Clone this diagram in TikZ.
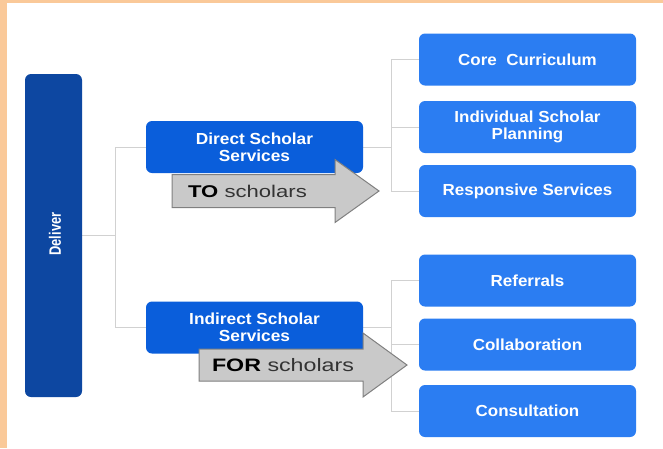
\documentclass[tikz,border=0pt]{standalone}
\usepackage{fontspec}
\setmainfont{Liberation Sans}
\usepackage{graphicx}
\usepackage{tikz}
\pgfdeclarelayer{bglayer}
\pgfdeclarelayer{edgelayer}
\pgfdeclarelayer{nodelayer}
\pgfsetlayers{bglayer,edgelayer,nodelayer,main}
\definecolor{peach}{rgb}{0.98,0.79,0.60}
\definecolor{deepblue}{rgb}{0.05,0.28,0.63}
\definecolor{midblue}{rgb}{0.04,0.37,0.86}
\definecolor{lightblue}{rgb}{0.17,0.49,0.95}
\definecolor{linegray}{rgb}{0.82,0.82,0.82}
\definecolor{arrowgray}{rgb}{0.79,0.79,0.79}
\definecolor{edgegray}{rgb}{0.50,0.50,0.50}
\definecolor{textgray}{rgb}{0.20,0.20,0.20}
\tikzstyle{none}=[inner sep=0pt]
\tikzstyle{bar}=[fill=deepblue, rounded corners=6, minimum width=57, minimum height=323, text=white, inner sep=0pt]
\tikzstyle{service}=[fill=midblue, rounded corners=6, minimum width=217, minimum height=52, text=white, align=center, inner sep=0pt, font=\fontsize{16}{17}\selectfont\bfseries]
\tikzstyle{branch}=[fill=lightblue, rounded corners=6, minimum width=217, minimum height=52, text=white, align=center, inner sep=0pt, font=\fontsize{16}{17}\selectfont\bfseries]
\tikzstyle{link}=[draw=linegray, line width=1]
\tikzstyle{block}=[fill=arrowgray, draw=edgegray, line width=1, line join=miter]

\begin{document}
\begin{tikzpicture}[x=1pt, y=-1pt]
	\useasboundingbox (0, 0) rectangle (663, 448);
	\begin{pgfonlayer}{bglayer}
		\fill [peach] (0, 0) rectangle (663, 448);
		\fill [white] (7, 3) rectangle (663, 448);
	\end{pgfonlayer}
	\begin{pgfonlayer}{nodelayer}
		\node [style=bar] (0) at (53.5, 235.5) {};
		\node [rotate=90, text=white, font=\fontsize{16.5}{17}\selectfont\bfseries] (22) at (55, 234) {\scalebox{0.78}[1]{Deliver}};
		\node [style=service] (1) at (254.5, 147) {\scalebox{1.08}[1]{Direct Scholar}\\\scalebox{1.08}[1]{Services}};
		\node [style=service] (2) at (254.5, 327.5) {\scalebox{1.08}[1]{Indirect Scholar}\\\scalebox{1.08}[1]{Services}};
		\node [style=branch] (3) at (527.5, 59.5) {\scalebox{1.06}[1]{Core\ \ Curriculum}};
		\node [style=branch] (4) at (527.5, 127) {\scalebox{1.06}[1]{Individual Scholar}\\\scalebox{1.06}[1]{Planning}};
		\node [style=branch] (5) at (527.5, 191) {\scalebox{1.06}[1]{Responsive Services}};
		\node [style=branch] (6) at (527.5, 280.5) {\scalebox{1.06}[1]{Referrals}};
		\node [style=branch] (7) at (527.5, 344.5) {\scalebox{1.06}[1]{Collaboration}};
		\node [style=branch] (8) at (527.5, 411) {\scalebox{1.06}[1]{Consultation}};
		\node [style=none] (11) at (115, 235.5) {};
		\node [style=none] (12) at (115, 147) {};
		\node [style=none] (13) at (115, 327.5) {};
		\node [style=none] (14) at (391, 147) {};
		\node [style=none] (15) at (391, 59.5) {};
		\node [style=none] (16) at (391, 191) {};
		\node [style=none] (17) at (391, 127) {};
		\node [style=none] (18) at (391, 327.5) {};
		\node [style=none] (19) at (391, 280.5) {};
		\node [style=none] (20) at (391, 411) {};
		\node [style=none] (21) at (391, 344.5) {};
	\end{pgfonlayer}
	\begin{pgfonlayer}{edgelayer}
		\draw [style=link] (0) to (11.center);
		\draw [style=link] (12.center) to (13.center);
		\draw [style=link] (12.center) to (1);
		\draw [style=link] (13.center) to (2);
		\draw [style=link] (1) to (14.center);
		\draw [style=link] (15.center) to (16.center);
		\draw [style=link] (15.center) to (3);
		\draw [style=link] (17.center) to (4);
		\draw [style=link] (16.center) to (5);
		\draw [style=link] (2) to (18.center);
		\draw [style=link] (19.center) to (20.center);
		\draw [style=link] (19.center) to (6);
		\draw [style=link] (21.center) to (7);
		\draw [style=link] (20.center) to (8);
	\end{pgfonlayer}
	% block arrows over the service boxes
	\draw [style=block] (172, 174.5) -- (335, 174.5) -- (335, 159.5) -- (379, 191) -- (335, 222.5) -- (335, 207.5) -- (172, 207.5) -- cycle;
	\draw [style=block] (199, 349) -- (363, 349) -- (363, 333) -- (407, 365) -- (363, 397) -- (363, 381) -- (199, 381) -- cycle;
	\node [style=none, font=\fontsize{17}{18}\selectfont] (9) at (247.5, 191) {\scalebox{1.3}[1]{\textbf{TO} \textcolor{textgray}{scholars}}};
	\node [style=none, font=\fontsize{18}{19}\selectfont] (10) at (283, 365) {\scalebox{1.29}[1]{\textbf{FOR} \textcolor{textgray}{scholars}}};
\end{tikzpicture}
\end{document}
